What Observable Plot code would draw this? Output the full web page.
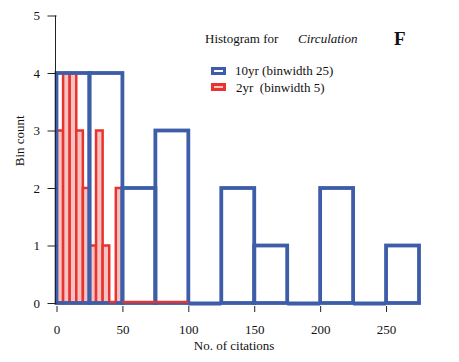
<!DOCTYPE html>
<html>
<head>
<meta charset="utf-8">
<script src="https://cdn.jsdelivr.net/npm/d3@7"></script>
<script src="https://cdn.jsdelivr.net/npm/@observablehq/plot@0.6"></script>
<style>
  html, body { margin: 0; padding: 0; background: #fff; }
  #wrap { position: relative; width: 459px; height: 362px; font-family: "Liberation Serif", "DejaVu Serif", serif; }
  .t { position: absolute; font-size: 13px; line-height: 13px; color: #111; white-space: pre; }
  .sw { position: absolute; width: 15px; height: 8px; box-sizing: border-box; border-width: 3px; border-style: solid; }
  svg text { font-family: "Liberation Serif", serif; }
</style>
</head>
<body>
<div id="wrap"></div>
<script>
// ---- data ----
const blueBinWidth = 25;
const blueBinStarts = [0, 25, 50, 75, 100, 125, 150, 175, 200, 225, 250];
const blueCounts    = [4, 4, 2, 3, 0, 2, 1, 0, 2, 0, 1];

const redBinWidth = 5;
const redBinStarts = [0, 5, 10, 15, 20, 25, 30, 35, 40, 45, 50, 55, 60, 65, 70, 75, 80, 85, 90, 95];
const redCounts    = [3, 4, 4, 3, 2, 1, 3, 1, 0, 2, 0, 0, 0, 0, 0, 0, 0, 0, 0, 0];

const xTicks = [0, 50, 100, 150, 200, 250];
const yTicks = [0, 1, 2, 3, 4, 5];

const BLUE = "#3e5da8";
const RED = "#e8332e";
const PINK = "#f6c3c3";
const FONT = "Liberation Serif";

const blue = blueBinStarts.map((s, i) => ({x0: s, x1: s + blueBinWidth, n: blueCounts[i]}));
const red = redBinStarts.map((s, i) => ({x0: s, x1: s + redBinWidth, n: redCounts[i]}));

const chart = Plot.plot({
  width: 459,
  height: 362,
  marginLeft: 56.5,
  marginRight: 33.4,
  marginTop: 15.5,
  marginBottom: 56,
  style: {fontFamily: FONT, fontSize: "13px", background: "transparent", color: "#111"},
  x: {domain: [0, 280]},
  y: {domain: [0, 5], insetBottom: 3},
  marks: [
    Plot.rect(red.filter(d => d.n > 0), {x1: "x0", x2: "x1", y1: 0, y2: "n", fill: PINK, stroke: RED, strokeWidth: 2.5}),
    Plot.rect(blue.filter(d => d.n > 0), {x1: "x0", x2: "x1", y1: 0, y2: "n", fill: "none", stroke: BLUE, strokeWidth: 3.8}),
    Plot.ruleY(blue.filter(d => d.n === 0), {x1: "x0", x2: "x1", y: 0, stroke: BLUE, strokeWidth: 3.8}),
    Plot.ruleY(red.filter(d => d.n === 0), {x1: "x0", x2: "x1", y: 0, dy: -1.5, stroke: RED, strokeWidth: 2.5}),
    Plot.ruleX([0], {y1: 0, y2: 5, dx: -1.5, stroke: "#222", strokeWidth: 1}),
    Plot.axisY({ticks: yTicks, tickFormat: "d", tickSize: 9, tickPadding: 8, label: null, stroke: "#222", fontSize: 13, fontFamily: FONT}),
    Plot.axisX({ticks: xTicks, tickFormat: "d", tickSize: 6, tickPadding: 12, label: null, stroke: "#222", fontSize: 13, fontFamily: FONT}),
    Plot.text(["Bin count"], {frameAnchor: "left", rotate: -90, dx: -37, dy: 5, text: d => d, fontSize: 13, fontFamily: FONT}),
    Plot.text(["No. of citations"], {frameAnchor: "bottom", dx: -7.5, dy: 43, text: d => d, fontSize: 13, fontFamily: FONT})
  ]
});

const wrap = document.getElementById("wrap");
wrap.appendChild(chart);

function addText(txt, left, top, extra) {
  const s = document.createElement("div");
  s.className = "t";
  s.textContent = txt;
  s.style.left = left + "px";
  s.style.top = top + "px";
  if (extra) Object.assign(s.style, extra);
  wrap.appendChild(s);
}
function addSwatch(left, top, border, fill) {
  const s = document.createElement("div");
  s.className = "sw";
  s.style.left = left + "px";
  s.style.top = top + "px";
  s.style.borderColor = border;
  s.style.background = fill;
  wrap.appendChild(s);
}
addText("Histogram for", 205, 32);
addText("Circulation", 298, 32, {fontStyle: "italic"});
addText("F", 394, 29, {fontSize: "19px", lineHeight: "19px", fontWeight: "bold"});
addSwatch(211, 67, BLUE, "#fff");
addText("10yr (binwidth 25)", 235, 64);
addSwatch(211, 83, RED, PINK);
addText("2yr  (binwidth 5)", 236, 81);
</script>
</body>
</html>
